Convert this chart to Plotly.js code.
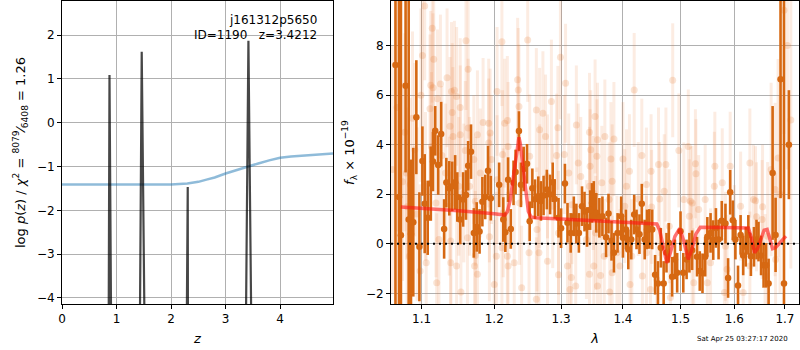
<!DOCTYPE html>
<html>
<head>
<meta charset="utf-8">
<script src="https://cdn.plot.ly/plotly-3.0.1.min.js"></script>
<style>html,body{margin:0;padding:0;background:#fff;}#chart{width:800px;height:350px;}</style>
</head>
<body>
<div id="chart"></div>
<script>
// ---- Left panel: log p(z) ----
const zGrid = [0, 0.84, 0.857, 0.871, 0.899, 0.92, 1.40, 1.431, 1.462, 1.51, 1.54, 2.27, 2.29, 2.306, 2.32, 2.34, 3.35, 3.376, 3.419, 3.468, 3.50, 4.97];
const logpZ = [-30, -30, -4.3, 1.09, -4.3, -30, -30, -4.2, 1.62, -4.2, -30, -30, -4.3, -1.47, -4.3, -30, -30, -4.2, 1.87, -4.2, -30, -30];
const zSmooth = [0, 0.5, 1.0, 1.5, 2.0, 2.3, 2.5, 2.65, 2.8, 3.0, 3.2, 3.4, 3.6, 3.8, 4.0, 4.2, 4.5, 4.97];
const logpSmooth = [-1.41, -1.41, -1.415, -1.415, -1.41, -1.39, -1.35, -1.30, -1.25, -1.16, -1.08, -1.01, -0.93, -0.86, -0.80, -0.77, -0.74, -0.70];

// ---- Right panel: spectrum ----
const strongLam = [1.066,1.0705,1.073,1.079,1.083,1.086,1.089,1.093,1.097,1.101,1.104,1.108,1.112,1.115,1.118,1.122,1.126,1.130,1.133,1.137,1.141,1.145,1.148,1.152,1.156,1.160,1.163,1.167,1.171,1.175,1.179,1.183,1.187,1.191,1.195,
1.207,1.213,1.216,1.220,1.224,1.228,1.231,1.236,1.239,1.243,1.248,1.252,1.256,1.260,1.265,1.269,1.273,1.278,1.283,1.287,1.290,1.296,1.300,1.306,1.310,1.315,1.320,1.324,1.328,1.333,1.337,1.341,1.346,1.349,
1.352,1.356,1.361,1.366,1.372,1.376,1.381,1.385,1.391,1.397,1.400,1.405,1.409,1.414,1.419,1.423,1.428,1.432,1.437,1.441,1.445,1.450,1.455,1.460,1.465,1.470,1.475,1.479,1.485,1.490,1.494,1.500,1.505,1.511,1.516,1.521,
1.530,1.535,1.540,1.545,1.549,1.555,1.560,1.565,1.570,1.576,1.583,1.588,1.592,1.597,1.602,1.607,1.612,1.617,1.622,1.627,1.632,1.638,1.643,1.647,1.652,1.657,1.662,1.667,1.675,1.681,1.691,1.698,1.708];
const strongFlux = [7.22,1.89,0.34,6.38,0.98,0.40,0.87,5.11,-0.12,3.34,1.62,1.05,2.43,3.32,4.56,3.18,4.43,0.60,2.47,2.24,2.32,2.48,1.89,0.98,1.79,1.97,3.15,3.72,0.44,0.68,0.50,1.70,1.89,2.95,1.84,
2.38,0.98,0.47,2.59,0.60,2.46,2.90,4.55,2.38,3.02,3.23,0.91,2.24,1.80,1.92,1.73,1.95,2.19,1.99,2.48,1.81,1.05,0.63,2.43,0.85,0.44,1.11,0.82,0.44,1.52,1.30,0.68,1.36,1.65,
1.73,1.25,1.05,1.11,0.26,1.22,0.12,-0.36,0.44,1.11,0.24,0.58,-0.23,0.17,1.18,0.58,0.39,1.62,0.17,0.58,0.60,0.58,-1.25,-1.60,-0.16,-1.60,-0.36,0.04,-1.33,-0.63,-1.17,0.51,-1.17,-0.63,-0.36,-0.26,
-0.52,-1.10,-1.19,-0.52,0.28,0.44,0.15,0.64,0.17,0.93,0.82,-1.38,2.08,0.95,0.17,-1.68,0.36,-0.47,-0.12,0.36,-0.50,-0.12,0.17,0.09,-0.47,-0.87,-0.87,-1.60,2.86,0.36,6.64,-1.60,4.0];
const strongErr = [10,10,10,3.5,10,3.0,3.0,2.3,2.2,1.4,2.0,1.5,1.5,1.2,1.0,1.2,1.3,1.2,1.0,1.1,1.0,1.1,1.0,1.0,1.1,1.0,1.0,1.1,1.0,1.0,0.9,1.0,0.9,1.0,0.9,
0.9,0.9,0.8,0.9,0.8,0.9,0.9,0.8,0.9,0.9,0.8,0.8,0.8,0.8,0.8,0.8,0.8,0.8,0.8,0.8,0.8,0.8,0.8,0.8,0.8,0.8,0.8,0.8,0.8,0.8,0.8,0.8,0.8,0.8,
0.8,0.8,0.8,0.8,0.8,0.8,0.8,0.8,0.8,0.8,0.8,0.8,0.8,0.8,0.8,0.8,0.8,0.8,0.8,0.8,0.8,0.8,0.8,0.9,0.8,0.9,0.8,0.8,0.8,0.8,0.8,0.8,0.8,0.8,0.8,0.8,
0.8,0.8,0.8,0.8,0.8,0.8,0.8,0.8,0.8,0.8,0.8,0.8,0.9,0.8,0.8,0.8,0.8,0.8,0.8,0.8,0.8,0.8,0.8,0.8,0.8,0.9,0.9,1.0,2.7,1.5,4.8,12,2.2];

const faintLam = [1.062,1.068,1.075,1.078,1.080,1.081,1.084,1.085,1.088,1.091,1.094,1.098,1.099,
1.101,1.104,1.105,1.106,1.111,1.112,1.113,1.114,1.115,1.116,1.119,1.121,1.120,1.123,1.125,1.127,1.132,1.134,1.138,1.137,1.139,1.140,1.141,1.139,1.142,1.144,1.147,1.147,1.150,1.152,1.152,1.153,1.157,1.159,1.160,1.162,1.163,1.163,1.165,1.171,1.172,1.173,1.173,1.176,1.176,1.180,1.184,1.192,1.192,1.193,1.193,
1.194,1.196,1.200,1.203,1.204,1.204,1.211,1.211,1.212,1.213,1.215,1.219,1.219,1.220,1.220,1.229,1.234,1.235,1.236,1.237,1.240,1.249,1.251,1.252,1.262,1.262,1.263,1.266,1.267,1.267,1.272,1.276,1.279,1.279,1.285,1.287,1.293,1.295,1.296,1.296,1.299,1.305,1.307,1.310,1.312,1.314,1.316,1.317,1.323,1.324,1.327,1.331,1.340,1.345,1.345,1.345,1.347,
1.346,1.351,1.352,1.354,1.355,1.357,1.358,1.358,1.363,1.365,1.369,1.370,1.377,1.378,1.380,1.382,1.382,1.385,1.390,1.395,1.400,1.403,1.406,1.411,1.412,1.415,1.419,1.426,1.432,1.433,1.440,1.440,1.447,1.448,1.449,1.458,1.461,1.463,1.471,1.474,1.480,1.482,1.486,1.497,1.506,1.514,1.516,1.521,
1.518,1.521,1.524,1.527,1.528,1.533,1.545,1.549,1.555,1.562,1.563,1.577,1.581,1.583,1.586,1.592,1.600,1.612,1.617,1.630,1.630,1.637,1.641,1.643,1.654,1.655,1.660,1.665,1.672,1.680,1.681,1.686,1.690,1.698,1.705,1.712];
const faintFlux = [3.0,5.5,2.5,4.5,2.86,1.5,-0.5,2.39,5.07,3.8,1.2,-1.1,6.0,
7.6,9.6,2.32,-0.77,5.45,6.4,3.93,8.7,6.3,7.45,1.65,5.85,-1.57,0.17,6.45,3.56,2.86,6.7,4.74,1.52,0.11,6.15,5.3,-0.77,4.33,6.2,5.95,-0.90,2.32,5.5,4.4,-1.95,2.05,3.77,8.2,0.24,7.05,4.67,2.32,3.4,-0.9,1.72,-0.47,4.4,-1.23,2.86,4.9,4.87,4.07,1.85,0.28,
4.47,3.4,-1.64,-0.5,6.15,2.59,8.16,-0.16,3.6,1.25,4.87,4.98,-0.5,3.93,-0.9,-0.77,6.62,6.21,5.54,1.65,-1.77,8.23,-0.36,3.53,5.4,-2.24,0.58,-0.36,4.6,2.32,5.27,4.33,2.72,-0.7,5.74,1.52,3.56,4.68,0.44,-1.25,7.53,3.6,6.48,-0.9,2.86,-1.84,-1.36,1.58,-1.7,4.8,3.26,2.72,0.17,4.5,2.32,-1.23,3.8,
3.13,2.05,-0.9,5.14,0.44,3.53,4.2,-1.7,-1.28,2.46,-0.5,4.33,1.79,-1.95,3.42,2.52,-1.17,4.23,-0.36,-0.9,3.42,1.52,2.32,2.93,-1.64,-0.5,6.21,1.81,3.56,-1.3,2.39,-0.36,-1.84,2.93,1.49,-1.44,3.2,1.81,2.12,3.2,0.71,-2.17,6.6,3.77,1.79,3.93,1.11,1.65,
1.72,-0.5,-1.57,3.23,2.83,1.38,1.79,-1.57,-0.77,2.32,3.13,2.46,-1.97,-0.1,-1.03,3.13,0.17,1.52,-1.97,3.26,-0.9,1.79,1.74,1.09,0.98,1.5,-1.3,0.3,3.0,2.19,-0.63,3.46,2.0,9.43,8.0,5.0];
const faintErr = [5,5,4,4,3.5,4,3.5,3.5,3.5,3.5,3.5,3.5,3.5,
3,3,3,3,3,3,3,3,3,3,3,2.8,2.8,2.8,2.8,2.8,2.8,2.8,2.8,2.8,2.8,2.8,2.8,2.8,2.8,2.8,2.8,2.8,2.8,2.8,2.8,2.8,2.8,2.8,2.8,2.8,2.8,2.8,2.8,2.6,2.6,2.6,2.6,2.6,2.6,2.6,2.6,2.6,2.6,2.6,2.6,
2.6,2.6,2.6,2.6,2.6,2.6,2.6,2.6,2.6,2.6,2.6,2.6,2.6,2.6,2.6,2.5,2.5,2.5,2.5,2.5,2.5,2.5,2.5,2.5,2.5,2.5,2.5,2.5,2.5,2.5,2.5,2.5,2.5,2.5,2.5,2.5,2.5,2.5,2.5,2.5,2.5,2.4,2.4,2.4,2.4,2.4,2.4,2.4,2.4,2.4,2.4,2.4,2.4,2.4,2.4,2.4,2.4,
2.3,2.3,2.3,2.3,2.3,2.3,2.3,2.3,2.3,2.3,2.3,2.3,2.3,2.3,2.3,2.3,2.3,2.3,2.3,2.3,2.3,2.3,2.3,2.3,2.3,2.3,2.3,2.3,2.3,2.3,2.3,2.3,2.3,2.3,2.3,2.3,2.3,2.3,2.3,2.3,2.3,2.3,2.3,2.3,2.3,2.3,2.3,2.3,
2.2,2.2,2.2,2.2,2.2,2.2,2.2,2.2,2.2,2.2,2.2,2.2,2.2,2.2,2.2,2.2,2.2,2.2,2.2,2.2,2.2,2.2,2.2,2.2,2.4,2.5,2.5,3,3.5,3.5,3.5,4,4,5,5,6];

const modelLam = [1.073,1.10,1.15,1.20,1.215,1.219,1.223,1.227,1.231,1.234,1.236,1.238,1.241,1.244,1.247,1.250,1.254,1.26,1.30,1.35,1.40,1.458,1.463,1.469,1.4755,1.482,1.490,1.4986,1.506,1.514,1.521,1.528,1.536,1.58,1.627,1.633,1.639,1.645,1.652,1.658,1.664,1.670,1.675,1.681,1.690,1.702];
const modelFlux = [1.49,1.44,1.33,1.21,1.16,1.30,1.75,2.55,3.45,4.05,4.3,4.05,3.35,2.55,1.8,1.3,1.08,1.05,1.00,0.93,0.87,0.80,0.55,-0.1,-0.77,-0.35,0.3,0.62,0.1,-0.63,-0.2,0.4,0.67,0.66,0.64,0.25,-0.36,-0.2,0.25,0.55,0.58,0.2,-0.2,-0.15,0.05,0.31];

const lamTicks = [1.1, 1.2, 1.3, 1.4, 1.5, 1.6, 1.7];
const lamTickText = ['1.1', '1.2', '1.3', '1.4', '1.5', '1.6', '1.7'];

const traces = [
  {x: zSmooth, y: logpSmooth, xaxis: 'x', yaxis: 'y', mode: 'lines', line: {color: 'rgba(31,119,180,0.5)', width: 2.5}, hoverinfo: 'skip'},
  {x: zGrid, y: logpZ, xaxis: 'x', yaxis: 'y', mode: 'lines', line: {color: 'rgba(0,0,0,0.72)', width: 2.2}, hoverinfo: 'skip'},
  {x: faintLam, y: faintFlux, xaxis: 'x2', yaxis: 'y2', mode: 'markers',
   marker: {color: 'rgba(228,120,45,0.2)', size: 7},
   error_y: {type: 'data', array: faintErr, color: 'rgba(232,130,60,0.15)', thickness: 3, width: 0}},
  {x: strongLam, y: strongFlux, xaxis: 'x2', yaxis: 'y2', mode: 'markers',
   marker: {color: 'rgb(214,104,18)', size: 6.5},
   error_y: {type: 'data', array: strongErr, color: 'rgb(214,104,18)', thickness: 2.6, width: 0}},
  {x: modelLam, y: modelFlux, xaxis: 'x2', yaxis: 'y2', mode: 'lines', line: {color: 'rgba(255,20,20,0.6)', width: 3.5}, hoverinfo: 'skip'}
];

const axisCommon = {
  showline: true, mirror: true, linecolor: 'black', linewidth: 1,
  ticks: 'outside', ticklen: 4, tickcolor: 'black', tickwidth: 1,
  showgrid: true, gridcolor: '#b0b0b0', gridwidth: 1, zeroline: false,
  tickfont: {family: 'DejaVu Sans', size: 12, color: 'black'}
};

const layout = {
  width: 800, height: 350,
  margin: {l: 62, r: 1, t: 1, b: 46},
  paper_bgcolor: 'white', plot_bgcolor: 'white',
  font: {family: 'DejaVu Sans', size: 12, color: 'black'},
  showlegend: false,
  xaxis: Object.assign({}, axisCommon, {domain: [0, 0.3677], range: [0, 4.97], tick0: 0, dtick: 1, anchor: 'y',
    title: {text: '<i>z</i>', font: {size: 13}, standoff: 8}}),
  yaxis: Object.assign({}, axisCommon, {domain: [0, 1], range: [-4.14, 2.78], tick0: 0, dtick: 1, anchor: 'x',
    title: {text: 'log <i>p</i>(<i>z</i>) / <i>χ</i><sup>2</sup> = <sup>8079</sup>⁄<sub>6408</sub> = 1.26', font: {size: 13}, standoff: 8}}),
  xaxis2: Object.assign({}, axisCommon, {domain: [0.4464, 1], type: 'log', range: [0.02543, 0.23775], anchor: 'y2',
    tickmode: 'array', tickvals: lamTicks, ticktext: lamTickText,
    title: {text: '<i>λ</i>', font: {size: 13}, standoff: 8}}),
  yaxis2: Object.assign({}, axisCommon, {domain: [0, 1], range: [-2.43, 9.8], tick0: 0, dtick: 2, anchor: 'x2',
    title: {text: '<i>f</i><sub>λ</sub> × 10<sup>−19</sup>', font: {size: 13}, standoff: 8}}),
  shapes: [
    {type: 'line', xref: 'x2 domain', yref: 'y2', x0: 0, x1: 1, y0: 0, y1: 0, line: {color: 'black', width: 2, dash: '2px,4px'}}
  ],
  annotations: [
    {xref: 'paper', yref: 'paper', x: 0.3487, y: 0.937, xanchor: 'right', yanchor: 'middle', showarrow: false,
     text: 'j161312p5650', font: {family: 'DejaVu Sans', size: 12, color: 'black'}},
    {xref: 'paper', yref: 'paper', x: 0.3487, y: 0.888, xanchor: 'right', yanchor: 'middle', showarrow: false,
     text: 'ID=1190&nbsp;&nbsp;&nbsp;z=3.4212', font: {family: 'DejaVu Sans', size: 12, color: 'black'}},
    {xref: 'paper', yref: 'paper', x: 0.924, y: -0.1155, xanchor: 'center', yanchor: 'middle', showarrow: false,
     text: 'Sat Apr 25 03:27:17 2020', font: {family: 'DejaVu Sans', size: 7, color: 'black'}}
  ]
};

Plotly.newPlot('chart', traces, layout, {staticPlot: true, displayModeBar: false});
</script>
</body>
</html>
